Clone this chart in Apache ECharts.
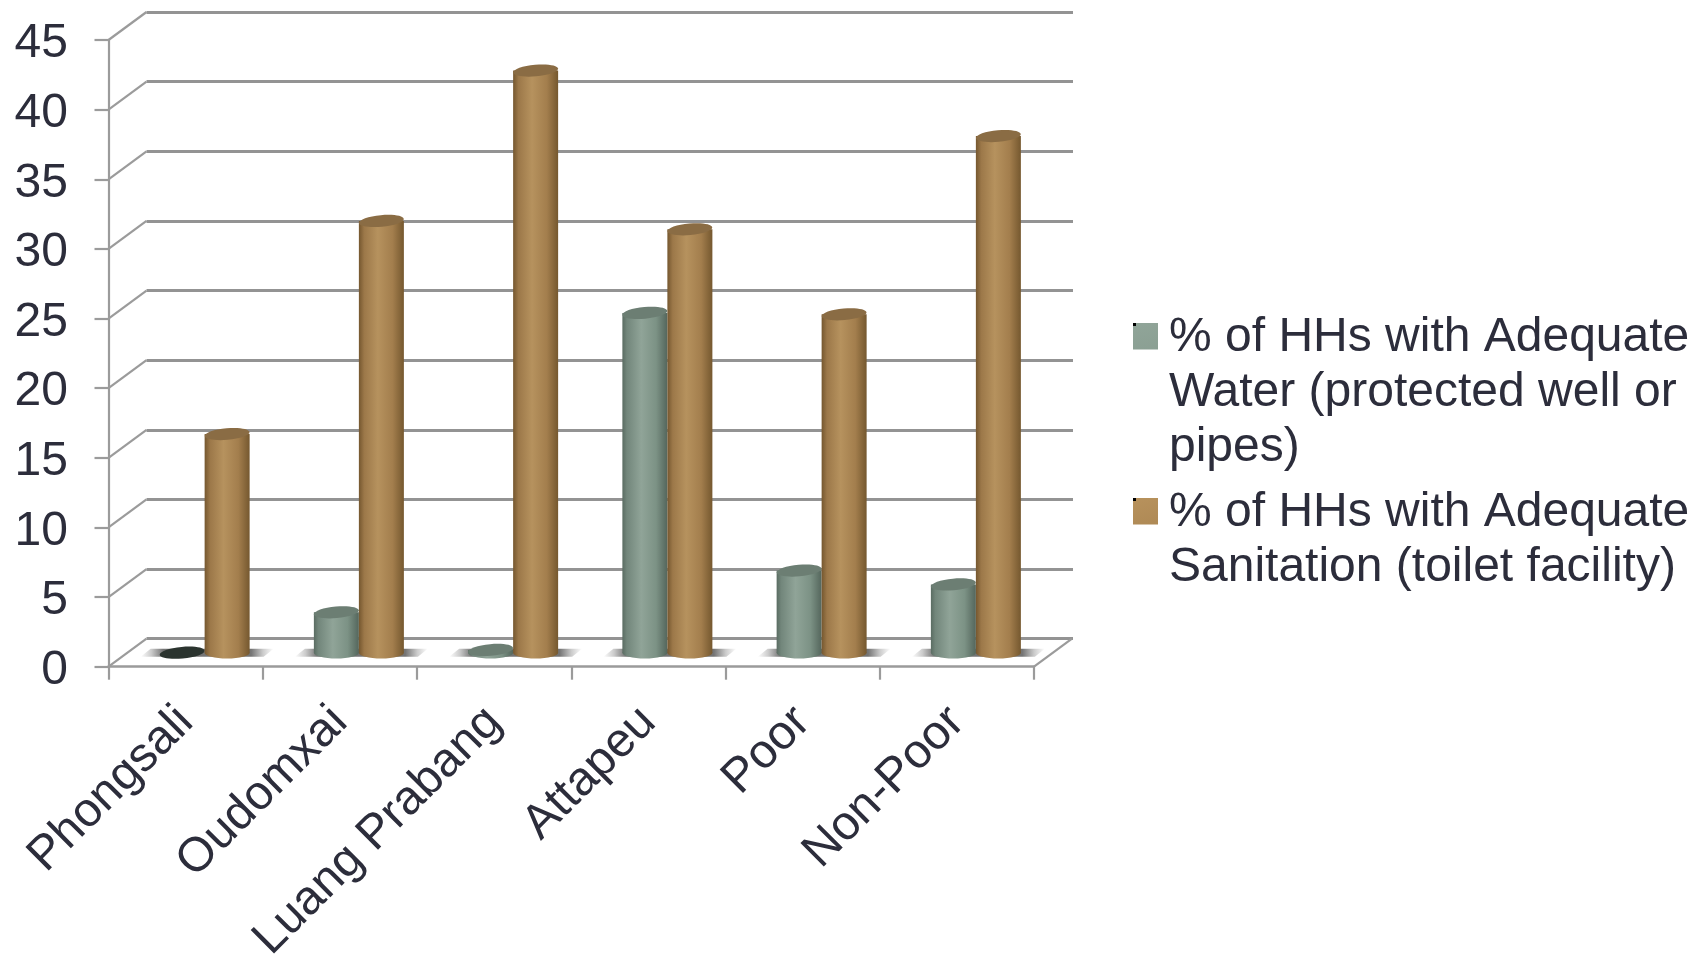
<!DOCTYPE html>
<html><head><meta charset="utf-8">
<style>html,body{margin:0;padding:0;background:#fff}#c{width:1698px;height:956px}</style>
<script src="https://cdn.jsdelivr.net/npm/echarts@6/dist/echarts.min.js"></script>
</head><body><div id="c"></div>
<script>
const categories = ['Phongsali','Oudomxai','Luang Prabang','Attapeu','Poor','Non-Poor'];
const waterName = '% of HHs with Adequate\nWater (protected well or\npipes)';
const sanitationName = '% of HHs with Adequate\nSanitation (toilet facility)';
const waterValues = [0, 2.9, 0.2, 24.4, 5.9, 4.9];
const sanitationValues = [15.7, 31, 41.8, 30.4, 24.3, 37.1];
const yTicks = [0,5,10,15,20,25,30,35,40,45];

const DX = 38, DY = 28, BAR_W = 45;
const FONT = '"Liberation Sans", Arial, sans-serif';
const TEXT = '#2c2d3b', LINE = '#9b9b9b';

function hGrad(stops){ return new echarts.graphic.LinearGradient(0,0,1,0,stops.map(s=>({offset:s[0],color:s[1]}))); }
const waterBody = hGrad([[0,'#5a6c62'],[.1,'#72867b'],[.42,'#90a498'],[.75,'#7c9285'],[1,'#54665c']]);
const sanBody = hGrad([[0,'#75572f'],[.12,'#9c7849'],[.42,'#b6925e'],[.75,'#a37e4d'],[1,'#75582f']]);
const waterSwatch = new echarts.graphic.LinearGradient(0,0,1,1,[{offset:0,color:'#93a79b'},{offset:1,color:'#72897c'}]);
const sanSwatch = new echarts.graphic.LinearGradient(0,0,1,1,[{offset:0,color:'#bb955f'},{offset:1,color:'#9b7746'}]);

function cylinder(side, body, topColor, zeroColor){
  return function(params, api){
    const i = api.value(0), v = api.value(1);
    const base = api.coord([i,0]), top = api.coord([i,v]);
    const cx = base[0] + DX/2 + side*BAR_W/2;
    const by = base[1] - DY/2, ty = top[1] - DY/2, rx = BAR_W/2, ry = 5.8;
    const kids = [];
    if (v > 0) {
      kids.push({type:'ellipse',shape:{cx:cx,cy:by,rx:rx,ry:ry},style:{fill:body}});
      kids.push({type:'rect',shape:{x:cx-rx,y:ty,width:BAR_W,height:by-ty},style:{fill:body}});
    }
    kids.push({type:'ellipse',x:cx,y:ty,rotation:0.09,shape:{cx:0,cy:0,rx:rx,ry:ry},
      style:{fill:v>0?topColor:zeroColor}});
    return {type:'group',children:kids};
  };
}
function floorShadow(params, api){
  const base = api.coord([api.value(0),0]);
  const cx = base[0] + DX/2, cy = base[1] - DY/2, w = BAR_W + 19;
  const fill = new echarts.graphic.LinearGradient(0,0,1,0,[
    {offset:0,color:'rgba(50,50,50,0)'},{offset:.08,color:'rgba(50,50,50,.25)'},{offset:.17,color:'rgba(50,50,50,.68)'},
    {offset:.83,color:'rgba(50,50,50,.68)'},{offset:.92,color:'rgba(50,50,50,.25)'},{offset:1,color:'rgba(50,50,50,0)'}]);
  return {type:'polygon',shape:{points:[[cx-w,cy+4],[cx-w+10,cy-4],[cx+w+5,cy-4],[cx+w-5,cy+4]]},style:{fill:fill}};
}
function depthLine(params, api){
  const v = api.value(1);
  const p = api.coord([api.value(0),v]);
  const x = p[0] - api.size([1,0])[0]/2 * (api.value(0)===0 ? 1 : -1);
  return {type:'line',shape:{x1:x,y1:p[1],x2:x+DX,y2:p[1]-DY},style:{stroke:LINE,lineWidth:2.2}};
}
function legendIcon(h){ return 'path://M0 0L0 0ZM0 13H25V39.5H0ZM31 '+h+'L31 '+h+'Z'; }
const legendBase = {orient:'vertical',selectedMode:false,itemWidth:31,itemGap:0,left:1133,padding:0,
  textStyle:{fontFamily:FONT,fontSize:48,color:TEXT,lineHeight:55}};
const depthData = yTicks.map(t=>[0,t]).concat([[categories.length-1,0]]);

const option = {
  animation:false, backgroundColor:'#fff',
  grid:[
    {left:108.5,top:40,width:925.5,height:626.7,outerBoundsMode:'none'},
    {left:146.5,top:12,width:926.5,height:626.7,outerBoundsMode:'none'}
  ],
  xAxis:[
    {type:'category',gridIndex:0,data:categories,
      axisLine:{lineStyle:{color:LINE,width:2.5}},
      axisTick:{show:true,length:13,lineStyle:{color:LINE,width:2.2}},
      axisLabel:{rotate:45,interval:0,margin:48,fontFamily:FONT,fontSize:48,color:TEXT}},
    {type:'category',gridIndex:1,data:categories,show:false}
  ],
  yAxis:[
    {type:'value',gridIndex:0,min:0,max:45,interval:5,
      axisLine:{show:true,lineStyle:{color:LINE,width:2.2}},
      axisTick:{show:true,length:14,lineStyle:{color:LINE,width:2.2}},
      splitLine:{show:false},
      axisLabel:{margin:40.5,verticalAlign:'top',lineHeight:8,fontFamily:FONT,fontSize:48,color:TEXT}},
    {type:'value',gridIndex:1,min:0,max:45,interval:5,
      axisLine:{show:false},axisTick:{show:false},axisLabel:{show:false},
      splitLine:{show:true,lineStyle:{color:'#939393',width:2.8}}}
  ],
  legend:[
    Object.assign({},legendBase,{top:310,itemHeight:165,
      data:[{name:waterName,icon:legendIcon(165),itemStyle:{color:waterSwatch}}]}),
    Object.assign({},legendBase,{top:485,itemHeight:110,
      data:[{name:sanitationName,icon:legendIcon(110),itemStyle:{color:sanSwatch}}]})
  ],
  series:[
    {type:'custom',name:'depth',silent:true,z:1,clip:false,xAxisIndex:0,yAxisIndex:0,
      renderItem:depthLine,encode:{x:0,y:1},data:depthData},
    {type:'custom',name:'shadow',silent:true,z:2,clip:false,renderItem:floorShadow,encode:{x:0,y:1},
      data:categories.map((c,i)=>[i,0])},
    {type:'custom',name:waterName,z:3,clip:false,encode:{x:0,y:1},
      itemStyle:{color:'#829a8d'},
      renderItem:cylinder(-1,waterBody,'#6c7e73','#2b342f'),data:waterValues.map((v,i)=>[i,v])},
    {type:'custom',name:sanitationName,z:4,clip:false,encode:{x:0,y:1},
      itemStyle:{color:'#a9844f'},
      renderItem:cylinder(1,sanBody,'#8a6c44','#8a6c44'),data:sanitationValues.map((v,i)=>[i,v])}
  ],
  graphic:[
    {type:'rect',left:1133,top:323,shape:{width:3,height:3},style:{fill:'#000'},z:50},
    {type:'rect',left:1133,top:498,shape:{width:3,height:3},style:{fill:'#000'},z:50}
  ]
};
echarts.init(document.getElementById('c'),null,{renderer:'canvas'}).setOption(option);
</script></body></html>
